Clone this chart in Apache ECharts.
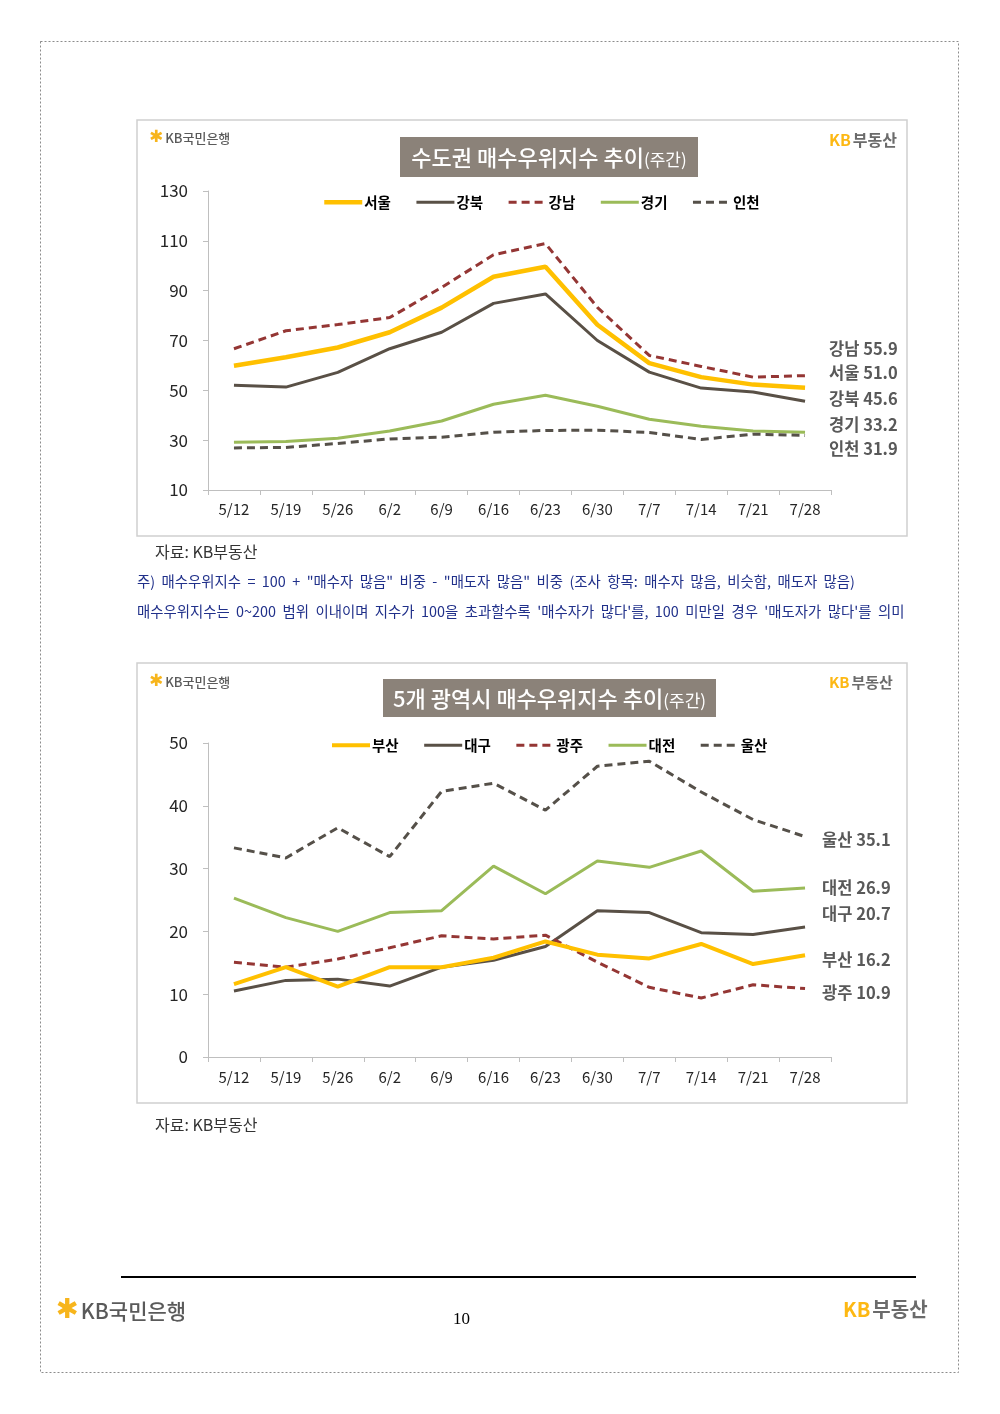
<!DOCTYPE html>
<html>
<head>
<meta charset="utf-8">
<script src="https://cdn.jsdelivr.net/npm/echarts@6/dist/echarts.min.js"></script>
<style>
  html, body { margin: 0; padding: 0; background: #fff; }
  #page { width: 1000px; height: 1414px; }
</style>
</head>
<body>
<div id="page"></div>
<script>
// 주간 날짜
var weeks = ['5/12', '5/19', '5/26', '6/2', '6/9', '6/16', '6/23', '6/30', '7/7', '7/14', '7/21', '7/28'];

// 수도권
var seoul = [59.9, 63.3, 67.2, 73.3, 83.2, 95.6, 99.6, 76.3, 60.9, 55.3, 52.3, 51.0];
var gangbuk = [52.0, 51.3, 57.2, 66.7, 73.3, 84.9, 88.7, 70.0, 57.3, 50.9, 49.3, 45.6];
var gangnam = [66.7, 73.9, 76.4, 79.2, 91.3, 104.4, 108.9, 83.3, 64.0, 59.6, 55.3, 55.9];
var gyeonggi = [29.2, 29.5, 30.8, 33.7, 37.7, 44.4, 48.0, 43.6, 38.4, 35.6, 33.7, 33.2];
var incheon = [26.9, 27.1, 28.7, 30.5, 31.2, 33.2, 33.9, 34.0, 33.1, 30.3, 32.4, 31.9];
var capitalTicks = [10, 130, 20];

// 5개 광역시
var busan = [11.6, 14.3, 11.2, 14.3, 14.3, 15.8, 18.4, 16.3, 15.7, 18.0, 14.8, 16.2];
var daegu = [10.5, 12.2, 12.4, 11.3, 14.3, 15.4, 17.6, 23.3, 23.0, 19.8, 19.5, 20.7];
var gwangju = [15.1, 14.3, 15.6, 17.4, 19.3, 18.8, 19.4, 15.1, 11.1, 9.4, 11.5, 10.9];
var daejeon = [25.3, 22.2, 20.0, 23.0, 23.3, 30.4, 26.0, 31.2, 30.2, 32.8, 26.4, 26.9];
var ulsan = [33.3, 31.7, 36.5, 31.9, 42.3, 43.6, 39.3, 46.3, 47.1, 42.2, 37.8, 35.1];
var metroTicks = [0, 50, 10];

var FONT = '"Noto Sans CJK KR", "Noto Sans", sans-serif';
var YELLOW = '#FFC000';
var BROWN = '#595046';
var RED = '#943634';
var GREEN = '#9BBB59';
var DARK = '#555049';

var chart = echarts.init(document.getElementById('page'));

function axisX(gridIndex, margin) {
  return {
    type: 'category',
    gridIndex: gridIndex,
    data: weeks,
    boundaryGap: true,
    axisLine: { lineStyle: { color: '#bfbfbf', width: 1 } },
    axisTick: { show: true, length: 5, lineStyle: { color: '#bfbfbf' } },
    axisLabel: { color: '#262626', fontSize: 15, fontFamily: FONT, margin: margin },
    splitLine: { show: false }
  };
}

function axisY(gridIndex, ticks) {
  return {
    type: 'value',
    gridIndex: gridIndex,
    min: ticks[0],
    max: ticks[1],
    interval: ticks[2],
    axisLine: { show: true, lineStyle: { color: '#bfbfbf', width: 1 } },
    axisTick: { show: true, length: 5, lineStyle: { color: '#bfbfbf' } },
    axisLabel: { color: '#262626', fontSize: 17, fontFamily: FONT, margin: 20 },
    splitLine: { show: false }
  };
}

// 라인 시리즈 생성
function line(name, data, idx, color, width, dashed, labelDist, labelDy) {
  return {
    name: name,
    type: 'line',
    xAxisIndex: idx,
    yAxisIndex: idx,
    data: data,
    symbol: 'none',
    lineStyle: { color: color, width: width, type: dashed ? [8, 5] : 'solid' },
    itemStyle: { color: color },
    endLabel: {
      show: true,
      distance: labelDist,
      offset: [0, labelDy],
      color: '#595959',
      fontSize: 16.5,
      fontWeight: 'bold',
      fontFamily: FONT,
      formatter: function (p) {
        return p.seriesName + ' ' + Number(p.value).toFixed(1);
      }
    }
  };
}

function legend(left, top, names) {
  return {
    left: left,
    top: top,
    padding: 0,
    data: names,
    itemWidth: 38,
    itemHeight: 14,
    itemGap: 24,
    itemStyle: { opacity: 0 },
    lineStyle: { width: 'inherit' },
    textStyle: { color: '#000', fontSize: 14.5, fontWeight: 'bold', fontFamily: FONT, padding: [0, 0, 0, -3] },
    selectedMode: false
  };
}

function box(x, y, w, h) {
  return {
    type: 'rect',
    shape: { x: x, y: y, width: w, height: h },
    style: { fill: 'none', stroke: '#d0d0d0', lineWidth: 1.5 },
    silent: true
  };
}

function titleBox(x, y, w, h, main) {
  return {
    type: 'group',
    silent: true,
    children: [
      { type: 'rect', shape: { x: x, y: y, width: w, height: h }, style: { fill: '#8b8279' } },
      {
        type: 'text',
        x: x + w / 2,
        y: y + h / 2 + 1,
        style: {
          text: '{a|' + main + '}{b|(주간)}',
          align: 'center',
          verticalAlign: 'middle',
          rich: {
            a: { fill: '#fff', fontSize: 22, fontFamily: FONT, fontWeight: 500 },
            b: { fill: '#fff', fontSize: 17, fontFamily: FONT, padding: [4, 0, 0, 0] }
          }
        }
      }
    ]
  };
}

function kbBank(x, y, size) {
  return {
    type: 'text',
    x: x,
    y: y,
    silent: true,
    style: {
      text: '{i|✱}{t|KB국민은행}',
      verticalAlign: 'middle',
      rich: {
        i: { fill: '#F7B51C', fontSize: size * 1.3, fontFamily: 'DejaVu Sans', padding: [0, 2, 0, 0] },
        t: { fill: '#5a5a5a', fontSize: size, fontFamily: FONT, fontWeight: 500 }
      }
    }
  };
}

function kbLand(x, y, size) {
  return {
    type: 'text',
    x: x,
    y: y,
    silent: true,
    style: {
      text: '{k|KB}{t|부동산}',
      verticalAlign: 'middle',
      rich: {
        k: { fill: '#FDB813', fontSize: size, fontFamily: FONT, fontWeight: 'bold', padding: [0, 2, 0, 0] },
        t: { fill: '#6b6b6b', fontSize: size, fontFamily: FONT, fontWeight: 'bold' }
      }
    }
  };
}

function plainText(x, y, text, size, color, font) {
  return {
    type: 'text',
    x: x,
    y: y,
    silent: true,
    style: { text: text, fill: color, fontSize: size, fontFamily: font || FONT, verticalAlign: 'middle' }
  };
}

// 주석 문장은 원본처럼 단어 간격을 넓게
function wide(s) {
  return s.split(' ').join('  ');
}

var option = {
  animation: false,
  backgroundColor: '#fff',
  grid: [
    { left: 208, top: 191, width: 623, height: 299 },
    { left: 208, top: 743, width: 623, height: 314 }
  ],
  xAxis: [axisX(0, 12), axisX(1, 13)],
  yAxis: [axisY(0, capitalTicks), axisY(1, metroTicks)],
  legend: [
    legend(322, 195, ['서울', '강북', '강남', '경기', '인천']),
    legend(330, 738, ['부산', '대구', '광주', '대전', '울산'])
  ],
  series: [
    line('경기', gyeonggi, 0, GREEN, 3, false, 24, -7),
    line('인천', incheon, 0, DARK, 3, true, 24, 13),
    line('강북', gangbuk, 0, BROWN, 3, false, 24, -3),
    line('강남', gangnam, 0, RED, 3, true, 24, -27),
    line('서울', seoul, 0, YELLOW, 4.5, false, 24, -15),

    line('대전', daejeon, 1, GREEN, 3, false, 17, 0),
    line('울산', ulsan, 1, DARK, 3, true, 17, 3),
    line('대구', daegu, 1, BROWN, 3, false, 17, -13),
    line('광주', gwangju, 1, RED, 3, true, 17, 4),
    line('부산', busan, 1, YELLOW, 4, false, 17, 4)
  ],
  graphic: [
    {
      type: 'rect',
      shape: { x: 40.5, y: 41.5, width: 918, height: 1331 },
      style: { fill: 'none', stroke: '#8c8c8c', lineWidth: 1, lineDash: [2, 2] },
      silent: true
    },
    box(137, 120, 770, 416),
    box(137, 663, 770, 440),
    titleBox(400, 137, 298, 40, '수도권 매수우위지수 추이'),
    titleBox(383, 679, 333, 38, '5개 광역시 매수우위지수 추이'),
    kbBank(149, 138, 13),
    kbLand(829, 140, 16),
    kbBank(149, 682, 13),
    kbLand(829, 682, 15),
    plainText(155, 552, '자료: KB부동산', 16, '#333'),
    plainText(137, 582, wide('주) 매수우위지수 = 100 + "매수자 많음" 비중 - "매도자 많음" 비중 (조사 항목: 매수자 많음, 비슷함, 매도자 많음)'), 14.4, '#20308a'),
    plainText(137, 612, wide("매수우위지수는 0~200 범위 이내이며 지수가 100을 초과할수록 '매수자가 많다'를, 100 미만일 경우 '매도자가 많다'를 의미"), 14.4, '#20308a'),
    plainText(155, 1125, '자료: KB부동산', 16, '#333'),
    {
      type: 'line',
      shape: { x1: 121, y1: 1277, x2: 916, y2: 1277 },
      style: { stroke: '#000', lineWidth: 2 },
      silent: true
    },
    kbBank(56, 1311, 21),
    kbLand(843, 1309, 20),
    plainText(453, 1320, '10', 17, '#000', '"Liberation Serif", "DejaVu Serif", serif')
  ]
};

chart.setOption(option);
</script>
</body>
</html>
